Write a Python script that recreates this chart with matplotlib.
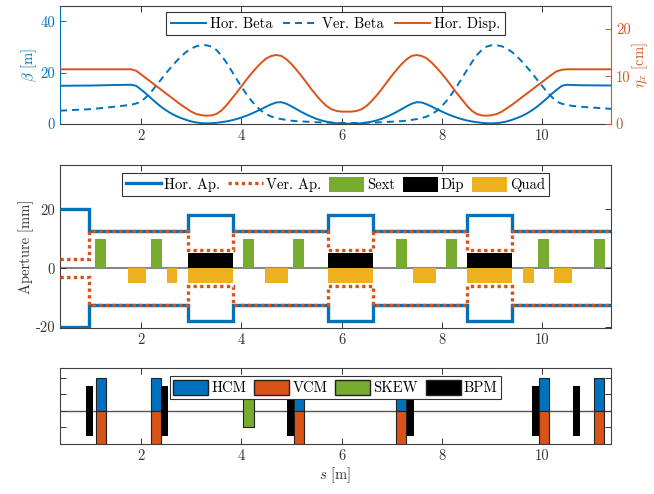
import matplotlib
matplotlib.use('Agg')
import matplotlib.pyplot as plt
from matplotlib.patches import Patch
from matplotlib.lines import Line2D

plt.rcParams['font.family'] = 'serif'
plt.rcParams['font.serif'] = ['cmr10']
plt.rcParams['mathtext.fontset'] = 'cm'
plt.rcParams['axes.unicode_minus'] = False
plt.rcParams['axes.formatter.use_mathtext'] = False
plt.rcParams['font.size'] = 10.5

azul = '#0072BD'
naranja = '#D95319'
verde = '#77AC30'
amarillo = '#EDB120'
gris = '#333333'

# ---- optica (panel de arriba) ----
s_opt = [0.38, 1.0, 1.5, 1.8, 1.9, 2.0, 2.1, 2.2, 2.3, 2.4, 2.5, 2.6, 2.7, 2.8, 2.9, 3.0,
         3.1, 3.2, 3.3, 3.4, 3.5, 3.6, 3.7, 3.8, 3.9, 4.0, 4.1, 4.2, 4.3, 4.4, 4.5, 4.6,
         4.7, 4.8, 4.9, 5.0, 5.1, 5.2, 5.3, 5.4, 5.5, 5.6, 5.7, 5.8, 5.9, 6.0, 6.1, 6.2,
         6.3, 6.4, 6.5, 6.6, 6.7, 6.8, 6.9, 7.0, 7.1, 7.2, 7.3, 7.4, 7.5, 7.6, 7.7, 7.8,
         7.9, 8.0, 8.1, 8.2, 8.3, 8.4, 8.5, 8.6, 8.7, 8.8, 8.9, 9.0, 9.1, 9.2, 9.3, 9.4,
         9.5, 9.6, 9.7, 9.8, 9.9, 10.0, 10.1, 10.2, 10.3, 10.4, 10.5, 10.6, 10.8, 11.38]
beta_x = [14.9, 15.0, 15.2, 15.3, 14.9, 13.4, 11.8, 10.0, 8.3, 6.7, 5.3, 4.1, 3.1, 2.3, 1.6, 1.0,
          0.6, 0.35, 0.25, 0.3, 0.45, 0.7, 1.0, 1.4, 1.9, 2.5, 3.2, 4.0, 4.9, 5.8, 6.8, 7.7,
          8.4, 8.5, 7.9, 6.9, 5.8, 4.7, 3.7, 2.8, 2.0, 1.4, 0.9, 0.55, 0.3, 0.15, 0.1, 0.1,
          0.15, 0.3, 0.55, 0.9, 1.4, 2.0, 2.8, 3.7, 4.7, 5.8, 6.9, 7.9, 8.5, 8.4, 7.7, 6.8,
          5.8, 4.9, 4.0, 3.2, 2.5, 1.9, 1.4, 1.0, 0.7, 0.45, 0.3, 0.25, 0.35, 0.6, 1.0, 1.6,
          2.3, 3.1, 4.1, 5.3, 6.7, 8.3, 10.0, 11.8, 13.4, 14.9, 15.3, 15.2, 15.1, 15.0]
beta_y = [5.2, 5.8, 6.8, 7.5, 8.0, 8.7, 10.5, 12.5, 15.0, 17.4, 19.9, 22.2, 24.4, 26.4, 28.1, 29.4,
          30.3, 30.7, 30.7, 30.2, 28.9, 26.8, 24.0, 20.9, 17.7, 14.6, 11.7, 9.1, 6.9, 5.1, 3.8, 2.9,
          2.3, 1.9, 1.6, 1.3, 1.1, 1.0, 0.9, 0.8, 0.7, 0.6, 0.55, 0.5, 0.45, 0.4, 0.4, 0.4,
          0.4, 0.45, 0.5, 0.55, 0.6, 0.7, 0.8, 0.9, 1.0, 1.1, 1.3, 1.6, 1.9, 2.3, 2.9, 3.8,
          5.1, 6.9, 9.1, 11.7, 14.6, 17.7, 20.9, 24.0, 26.8, 28.9, 30.2, 30.7, 30.7, 30.3, 29.4, 28.1,
          26.4, 24.4, 22.2, 19.9, 17.4, 15.0, 12.5, 10.5, 8.7, 7.9, 7.4, 7.1, 6.7, 5.9]
eta_x = [11.5, 11.5, 11.5, 11.5, 11.2, 10.4, 9.6, 8.8, 8.0, 7.2, 6.4, 5.6, 4.8, 4.0, 3.3, 2.6,
         2.1, 1.85, 1.75, 1.8, 2.1, 2.8, 3.9, 5.2, 6.5, 7.9, 9.3, 10.6, 11.8, 12.9, 13.8, 14.3,
         14.5, 14.3, 13.6, 12.6, 11.4, 10.1, 8.7, 7.3, 6.0, 4.8, 3.8, 3.1, 2.75, 2.6, 2.6, 2.6,
         2.75, 3.1, 3.8, 4.8, 6.0, 7.3, 8.7, 10.1, 11.4, 12.6, 13.6, 14.3, 14.5, 14.3, 13.8, 12.9,
         11.8, 10.6, 9.3, 7.9, 6.5, 5.2, 3.9, 2.8, 2.1, 1.8, 1.75, 1.85, 2.1, 2.6, 3.3, 4.0,
         4.8, 5.6, 6.4, 7.2, 8.0, 8.8, 9.6, 10.4, 11.1, 11.4, 11.5, 11.5, 11.5, 11.5]

# ---- aperturas ----
ap_bordes = [0.38, 0.96, 2.94, 3.84, 5.73, 6.63, 8.51, 9.41, 11.38]
ap_hor = [20, 12.5, 18, 12.5, 18, 12.5, 18, 12.5]
ap_ver = [3, 12.5, 6, 12.5, 6, 12.5, 6, 12.5]

# ---- imanes ----
sext_s = [1.08, 2.19, 4.03, 5.03, 7.09, 8.09, 9.93, 11.04]
sext_l = 0.22
sext_k = 10
dip_s = [2.94, 5.73, 8.51]
dip_l = 0.90
dip_k = 5
quad_s = [1.73, 2.51, 2.94, 4.47, 5.73, 7.42, 8.51, 9.63, 10.25]
quad_l = [0.36, 0.20, 0.90, 0.46, 0.90, 0.47, 0.90, 0.21, 0.36]
quad_k = -5

# ---- correctores y BPMs ----
cm_s = [1.09, 2.20, 5.05, 7.09, 9.95, 11.05]
cm_l = 0.20
skew_s = [4.03]
skew_l = 0.22
bpm_s = [0.90, 2.39, 4.91, 7.30, 9.81, 10.63]
bpm_l = 0.14

xlim = (0.38, 11.38)
xt = [2, 4, 6, 8, 10]

fig = plt.figure(figsize=(6.54, 4.94), dpi=100)
W, H = 654, 494
izq, ancho = 60 / W, 551 / W


def estilo(ax):
    ax.set_xlim(*xlim)
    ax.set_xticks(xt)
    ax.tick_params(direction='in', length=4, width=0.7, colors=gris,
                   top=True, right=True, labelsize=10.5)
    for sp in ax.spines.values():
        sp.set_color('#404040')
        sp.set_linewidth(0.8)


# Panel 1
ax1 = fig.add_axes([izq, 1 - 124 / H, ancho, 118 / H])
ax1b = ax1.twinx()
estilo(ax1)
ax1.tick_params(right=False)
l1, = ax1.plot(s_opt, beta_x, color=azul, lw=1.4)
l2, = ax1.plot(s_opt, beta_y, color=azul, lw=1.4, dashes=(3.6, 2.6))
l3, = ax1b.plot(s_opt, eta_x, color=naranja, lw=1.4)
ax1.set_ylim(0, 46)
ax1.set_yticks([0, 20, 40])
ax1b.set_ylim(0, 24.8)
ax1b.set_yticks([0, 10, 20])
ax1.tick_params(axis='y', colors=azul)
ax1b.tick_params(axis='y', direction='in', length=4, width=0.7, colors=naranja, labelsize=10.5)
ax1.spines['left'].set_color(azul)
ax1.spines['right'].set_visible(False)
ax1b.spines['left'].set_visible(False)
ax1b.spines['top'].set_visible(False)
ax1b.spines['bottom'].set_visible(False)
ax1b.spines['right'].set_color(naranja)
ax1.set_ylabel(r'$\beta$ [m]', color=azul, labelpad=1)
ax1b.set_ylabel(r'$\eta_x$ [cm]', color=naranja, labelpad=0)
leg = ax1b.legend([l1, l2, l3], ['Hor. Beta', 'Ver. Beta', 'Hor. Disp.'], ncol=3,
                  loc='upper center', bbox_to_anchor=(0.5, 0.945), fancybox=False,
                  framealpha=1, edgecolor=gris, handlelength=2.4, handletextpad=0.3,
                  columnspacing=0.7, borderpad=0.3, borderaxespad=0)
leg.get_frame().set_linewidth(0.8)

# Panel 2
ax2 = fig.add_axes([izq, 1 - 328 / H, ancho, 163 / H])
estilo(ax2)
ax2.axhline(0, color='#888888', lw=1.5, zorder=1)
ax2.bar(sext_s, sext_k, width=sext_l, align='edge', color=verde, zorder=2)
ax2.bar(dip_s, dip_k, width=dip_l, align='edge', color='black', zorder=2)
ax2.bar(quad_s, quad_k, width=quad_l, align='edge', color=amarillo, zorder=2)
ax2.stairs(ap_hor, ap_bordes, baseline=None, color=azul, lw=2.4, zorder=3)
ax2.stairs([-v for v in ap_hor], ap_bordes, baseline=None, color=azul, lw=2.4, zorder=3)
ax2.stairs(ap_ver, ap_bordes, baseline=None, color=naranja, lw=2.4, ls=(0, (1, 1)), zorder=4)
ax2.stairs([-v for v in ap_ver], ap_bordes, baseline=None, color=naranja, lw=2.4,
           ls=(0, (1, 1)), zorder=4)
ax2.set_ylim(-20.3, 35)
ax2.set_yticks([-20, 0, 20])
ax2.set_ylabel('Aperture [mm]', color=gris, labelpad=1)
h2 = [Line2D([], [], color=azul, lw=2.4),
      Line2D([], [], color=naranja, lw=2.4, ls=(0, (1, 1))),
      Patch(facecolor=verde), Patch(facecolor='black'), Patch(facecolor=amarillo)]
leg = ax2.legend(h2, ['Hor. Ap.', 'Ver. Ap.', 'Sext', 'Dip', 'Quad'], ncol=5,
                 loc='upper center', bbox_to_anchor=(0.5, 0.951), fancybox=False,
                 framealpha=1, edgecolor=gris, handlelength=2.4, handleheight=1.2,
                 handletextpad=0.2, columnspacing=0.55, borderpad=0.25, borderaxespad=0)
leg.get_frame().set_linewidth(0.8)

# Panel 3
ax3 = fig.add_axes([izq, 1 - 444 / H, ancho, 76 / H])
estilo(ax3)
ax3.axhline(0, color='#555555', lw=1.0, zorder=1)
borde = '#222222'
ax3.bar(cm_s, 1, width=cm_l, align='edge', color=azul, edgecolor=borde, lw=0.8, zorder=2)
ax3.bar(cm_s, -1, width=cm_l, align='edge', color=naranja, edgecolor=borde, lw=0.8, zorder=2)
ax3.bar(skew_s, 1.0, bottom=-0.5, width=skew_l, align='edge', color=verde, edgecolor=borde,
        lw=0.8, zorder=2)
ax3.bar(bpm_s, 1.5, bottom=-0.75, width=bpm_l, align='edge', color='black', zorder=3)
ax3.set_ylim(-1, 1.3)
ax3.set_yticks([-1, -0.5, 0, 0.5, 1])
ax3.set_yticklabels([])
ax3.set_xlabel(r'$s$ [m]', color=gris, labelpad=2)
h3 = [Patch(facecolor=azul, edgecolor=borde), Patch(facecolor=naranja, edgecolor=borde),
      Patch(facecolor=verde, edgecolor=borde), Patch(facecolor='black', edgecolor=borde)]
leg = ax3.legend(h3, ['HCM', 'VCM', 'SKEW', 'BPM'], ncol=4, loc='upper center',
                 bbox_to_anchor=(0.5, 0.895), fancybox=False, framealpha=1, edgecolor=gris,
                 handlelength=2.4, handleheight=1.2, handletextpad=0.2, columnspacing=0.55,
                 borderpad=0.25, borderaxespad=0)
leg.get_frame().set_linewidth(0.8)

fig.savefig('out.png', dpi=100)
